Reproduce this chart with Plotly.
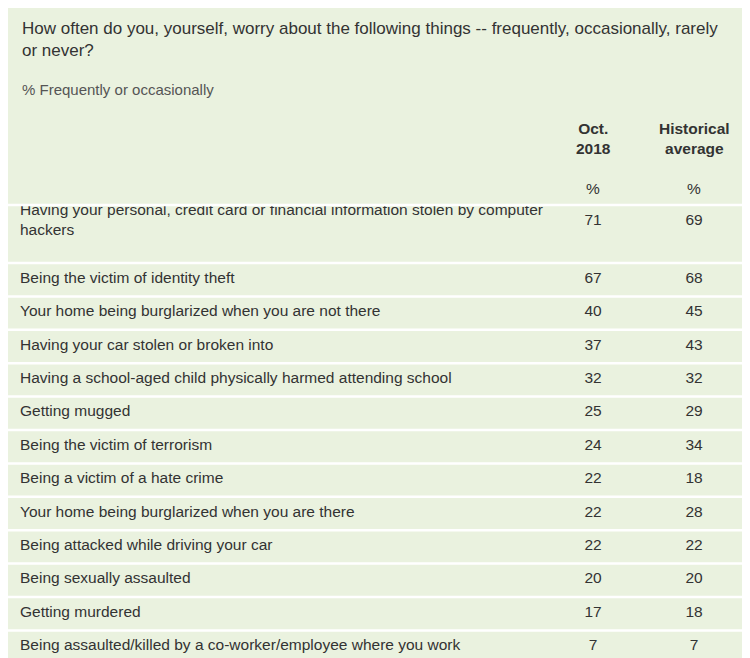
import plotly.graph_objects as go

items = [
    "Having your personal, credit card or financial information stolen by computer<br>hackers",
    "Being the victim of identity theft",
    "Your home being burglarized when you are not there",
    "Having your car stolen or broken into",
    "Having a school-aged child physically harmed attending school",
    "Getting mugged",
    "Being the victim of terrorism",
    "Being a victim of a hate crime",
    "Your home being burglarized when you are there",
    "Being attacked while driving your car",
    "Being sexually assaulted",
    "Getting murdered",
    "Being assaulted/killed by a co-worker/employee where you work",
]
oct_2018 = [71, 67, 40, 37, 32, 25, 24, 22, 22, 22, 20, 17, 7]
hist_avg = [69, 68, 45, 43, 32, 29, 34, 18, 28, 22, 20, 18, 7]
col_heads = ["<b>Oct.</b><br><b>2018</b>", "<b>Historical</b><br><b>average</b>"]

bg = "#EAF2DF"
txt = "#333333"
fnt = "Arial"

# layout in pixel units (y axis runs top->bottom)
W, H = 750, 658
header_bottom = 197
row_h = 33.4
label_x, col1_x, col2_x = 12, 585, 686

# row tops: first row is two lines tall
tops = [header_bottom]
for i, s in enumerate(items[:-1]):
    tops.append(tops[-1] + (58 if "<br>" in s else row_h))
first_line_y = [t + 16 for t in tops]

fig = go.Figure()
fig.add_trace(go.Scatter(
    x=[label_x] * len(items), y=first_line_y, text=items, mode="text",
    textposition="middle right", hoverinfo="skip",
    textfont=dict(family=fnt, size=15.5, color=txt),
))
for xpos, vals in [(col1_x, oct_2018), (col2_x, hist_avg)]:
    fig.add_trace(go.Scatter(
        x=[xpos] * len(vals), y=first_line_y, text=[str(v) for v in vals], mode="text",
        textposition="middle center", hoverinfo="skip",
        textfont=dict(family=fnt, size=15.5, color=txt),
    ))

shapes = [dict(type="line", xref="x", yref="y", x0=0, x1=W, y0=t, y1=t,
               line=dict(color="white", width=2.5)) for t in tops]

annotations = [
    dict(text="How often do you, yourself, worry about the following things -- frequently, occasionally, rarely<br>or never?",
         x=12, y=9, xanchor="left", yanchor="top", align="left",
         font=dict(family=fnt, size=17, color=txt)),
    dict(text="% Frequently or occasionally", x=12, y=81, xanchor="left", yanchor="middle",
         font=dict(family=fnt, size=15, color="#555555")),
]
for xpos, h in [(col1_x, col_heads[0]), (col2_x, col_heads[1])]:
    annotations.append(dict(text=h, x=xpos, y=110, xanchor="center", yanchor="top",
                            align="center", font=dict(family=fnt, size=15.5, color=txt)))
    annotations.append(dict(text="%", x=xpos, y=180, xanchor="center", yanchor="middle",
                            font=dict(family=fnt, size=15.5, color=txt)))
for a in annotations:
    a.update(xref="x", yref="y", showarrow=False)

fig.update_layout(
    width=W, height=H,
    margin=dict(l=0, r=0, t=0, b=0),
    paper_bgcolor=bg, plot_bgcolor=bg,
    showlegend=False,
    xaxis=dict(range=[0, W], visible=False, fixedrange=True),
    yaxis=dict(range=[H, 0], visible=False, fixedrange=True),
    shapes=shapes, annotations=annotations,
)

fig.write_html("out.html")
